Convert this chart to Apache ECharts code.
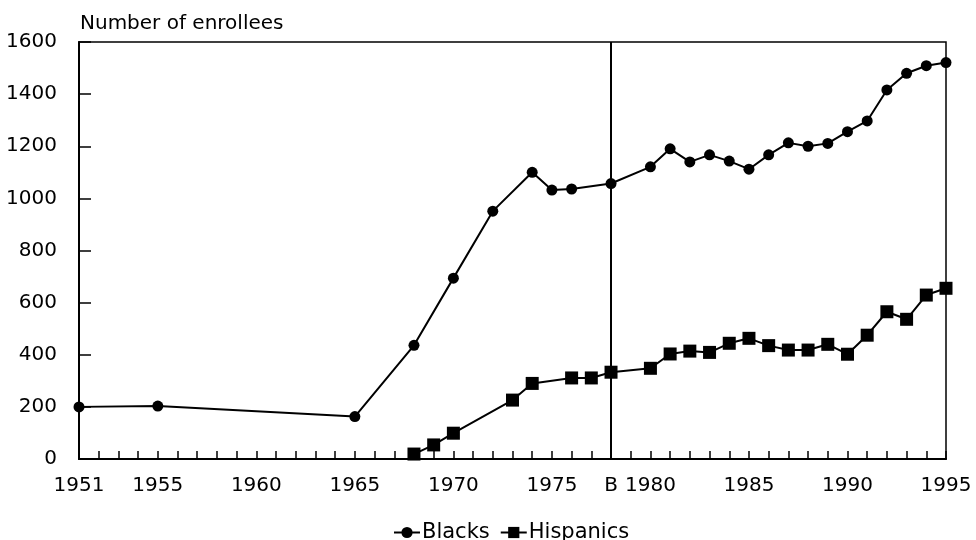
<!DOCTYPE html>
<html>
<head>
<meta charset="utf-8">
<script src="https://cdn.jsdelivr.net/npm/echarts@6/dist/echarts.min.js"></script>
<style>html,body{margin:0;padding:0;background:#fff}#c{width:976px;height:540px}</style>
</head>
<body>
<div id="c"></div>
<script>
const blackYears = [1951,1955,1965,1968,1970,1972,1974,1975,1976,1978,1980,1981,1982,1983,1984,1985,1986,1987,1988,1989,1990,1991,1992,1993,1994,1995];
const blackValues = [200,203,163,436,694,951,1100,1032,1036,1057,1121,1190,1140,1167,1143,1112,1167,1213,1200,1211,1256,1297,1416,1480,1509,1521];
const hispYears = [1968,1969,1970,1973,1974,1976,1977,1978,1980,1981,1982,1983,1984,1985,1986,1987,1988,1989,1990,1991,1992,1993,1994,1995];
const hispValues = [19,54,99,226,290,311,311,333,348,403,414,409,444,463,435,418,418,440,402,475,565,536,629,655];
const xLabels = {1951:'1951',1955:'1955',1960:'1960',1965:'1965',1970:'1970',1975:'1975',1978:'B',1980:'1980',1985:'1985',1990:'1990',1995:'1995'};
const markYear = 1978;
const yTitle = 'Number of enrollees';
const seriesNames = ['Blacks','Hispanics'];

const FONT = 'DejaVu Sans';
const chart = echarts.init(document.getElementById('c'));
chart.setOption({
  animation: false,
  backgroundColor: '#fff',
  textStyle: {fontFamily: FONT, color: '#000'},
  title: {text: yTitle, left: 75, top: 9, textStyle: {fontFamily: FONT, fontSize: 20, fontWeight: 'normal', color: '#000'}},
  legend: {
    data: seriesNames, left: 388, top: 517, itemWidth: 26, itemHeight: 14, itemGap: 10,
    textStyle: {fontFamily: FONT, fontSize: 21, color: '#000', padding: [0,0,0,-3]}
  },
  grid: {left: 79, right: 30, top: 42, bottom: 81, show: true, borderColor: '#000', borderWidth: 1.5,
    backgroundColor: 'transparent', containLabel: false, outerBoundsMode: 'none'},
  xAxis: {
    type: 'value', min: 1951, max: 1995, interval: 1,
    axisLine: {show: true, lineStyle: {color: '#000', width: 2}},
    axisTick: {show: true, inside: true, length: 8, lineStyle: {color: '#000', width: 1.5}},
    splitLine: {show: false},
    axisLabel: {fontFamily: FONT, fontSize: 20, color: '#000', margin: 17, showMinLabel: true, showMaxLabel: true,
      formatter: v => xLabels[v] || ''}
  },
  yAxis: {
    type: 'value', min: 0, max: 1600, interval: 200,
    axisLine: {show: true, lineStyle: {color: '#000', width: 2}},
    axisTick: {show: true, inside: true, length: 12, lineStyle: {color: '#000', width: 1.5}},
    splitLine: {show: false},
    axisLabel: {fontFamily: FONT, fontSize: 20, color: '#000', margin: 22, formatter: v => String(v)}
  },
  series: [
    {
      name: seriesNames[0], type: 'line', symbol: 'circle', symbolSize: 11,
      data: blackYears.map((y, i) => [y, blackValues[i]]),
      lineStyle: {color: '#000', width: 2}, itemStyle: {color: '#000'},
      markLine: {silent: true, symbol: 'none', label: {show: false},
        lineStyle: {color: '#000', width: 2, type: 'solid'}, data: [{xAxis: markYear}]}
    },
    {
      name: seriesNames[1], type: 'line', symbol: 'rect', symbolSize: 13,
      data: hispYears.map((y, i) => [y, hispValues[i]]),
      lineStyle: {color: '#000', width: 2}, itemStyle: {color: '#000'}
    }
  ]
});
</script>
</body>
</html>
